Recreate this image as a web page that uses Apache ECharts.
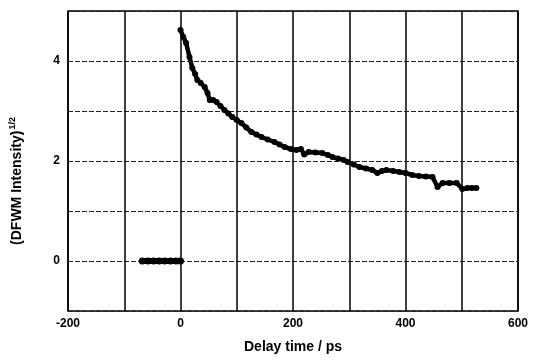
<!DOCTYPE html>
<html>
<head>
<meta charset="utf-8">
<script src="https://cdn.jsdelivr.net/npm/echarts@6/dist/echarts.min.js"></script>
<style>
  html, body { margin: 0; padding: 0; background: #fff; }
  #chart { width: 535px; height: 362px; }
</style>
</head>
<body>
<div id="chart"></div>
<script>
// delay time (ps) vs sqrt of DFWM intensity
const baselineTimes = [-68, -58, -48, -38, -28, -18, -8, 0]
const baselineValues = [0, 0, 0, 0, 0, 0, 0, 0]

const decayTimes = [
  0, 5, 10, 16, 21, 26, 30, 36, 43, 48,
  52, 58, 64, 71, 78, 85, 92, 100, 108, 117,
  126, 135, 144, 155, 167, 176, 185, 196, 206, 214,
  220, 228, 240, 252, 262, 270, 280, 290, 297, 308,
  318, 330, 341, 350, 358, 366, 378, 389, 400, 412,
  424, 436, 448, 457, 466, 478, 491, 501, 510, 518,
  526,
]
const decayValues = [
  4.62, 4.48, 4.36, 4.08, 3.86, 3.74, 3.62, 3.56, 3.48, 3.36,
  3.22, 3.22, 3.18, 3.1, 3.02, 2.95, 2.88, 2.82, 2.76, 2.67,
  2.58, 2.53, 2.48, 2.43, 2.38, 2.33, 2.28, 2.24, 2.22, 2.24,
  2.13, 2.18, 2.17, 2.16, 2.12, 2.08, 2.05, 2.02, 1.98, 1.93,
  1.88, 1.85, 1.82, 1.76, 1.8, 1.82, 1.8, 1.78, 1.76, 1.72,
  1.7, 1.69, 1.68, 1.48, 1.56, 1.56, 1.56, 1.44, 1.46, 1.46,
  1.46,
]

const xTickLabels = [-200, 0, 200, 400, 600]
const yTickLabels = [0, 2, 4]

const font = '"Liberation Sans", Arial, sans-serif'

function zip(xs, ys) {
  return xs.map((x, i) => [x, ys[i]])
}

const chart = echarts.init(document.getElementById('chart'))
chart.setOption({
  animation: false,
  grid: {
    left: 68,
    right: 17,
    top: 11,
    bottom: 51,
    show: true,
    borderColor: '#000',
    borderWidth: 1.5,
  },
  xAxis: {
    type: 'value',
    min: -200,
    max: 600,
    interval: 100,
    name: 'Delay time / ps',
    nameLocation: 'middle',
    nameGap: 29,
    nameTextStyle: {
      fontFamily: font,
      fontWeight: 'bold',
      fontSize: 14,
      color: '#000',
    },
    axisLine: { show: false },
    axisTick: { show: false },
    axisLabel: {
      margin: 7,
      fontFamily: font,
      fontWeight: 'bold',
      fontSize: 12,
      color: '#000',
      showMinLabel: true,
      showMaxLabel: true,
      formatter: (v) => (xTickLabels.includes(v) ? String(v) : ''),
    },
    splitLine: {
      show: true,
      lineStyle: { color: '#000', width: 1.5, type: 'solid' },
    },
  },
  yAxis: {
    type: 'value',
    min: -1,
    max: 5,
    interval: 1,
    name: '{a|(DFWM Intensity)}{sup|1/2}',
    nameLocation: 'middle',
    nameGap: 42,
    nameTextStyle: {
      padding: [0, 40, 0, 0],
      rich: {
        a: {
          fontFamily: font,
          fontWeight: 'bold',
          fontSize: 14,
          color: '#000',
        },
        sup: {
          fontFamily: font,
          fontWeight: 'bold',
          fontSize: 9,
          color: '#000',
          padding: [0, 0, 9, 1],
        },
      },
    },
    axisLine: { show: false },
    axisTick: { show: false },
    axisLabel: {
      margin: 8,
      fontFamily: font,
      fontWeight: 'bold',
      fontSize: 12,
      color: '#000',
      formatter: (v) => (yTickLabels.includes(v) ? String(v) : ''),
    },
    splitLine: {
      show: true,
      lineStyle: { color: '#222', width: 1, type: [5, 2] },
    },
  },
  series: [
    {
      type: 'line',
      data: zip(baselineTimes, baselineValues),
      symbol: 'circle',
      symbolSize: 7,
      itemStyle: { color: '#000' },
      lineStyle: { color: '#000', width: 6 },
    },
    {
      type: 'line',
      data: zip(decayTimes, decayValues),
      symbol: 'circle',
      symbolSize: 6,
      itemStyle: { color: '#000' },
      lineStyle: { color: '#000', width: 4.5 },
    },
  ],
})
</script>
</body>
</html>
